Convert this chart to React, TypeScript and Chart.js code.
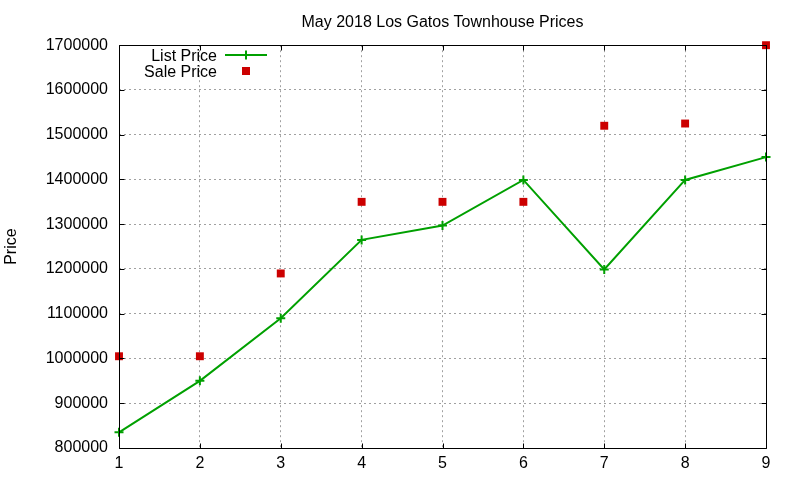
import React, { useEffect, useRef } from "react";
import { Chart, registerables } from "chart.js";

Chart.register(...registerables);

const categories = ["1", "2", "3", "4", "5", "6", "7", "8", "9"];
const listPrice = [835000, 950000, 1090000, 1265000, 1297000, 1399000, 1199000, 1399000, 1450000];
const salePrice = [1005000, 1005000, 1190000, 1350000, 1350000, 1350000, 1520000, 1525000, 1700000];
const yMin = 800000;
const yMax = 1700000;
const yStep = 100000;
const titleText = "May 2018 Los Gatos Townhouse Prices";
const yTitle = "Price";
const legendLabels = ["List Price", "Sale Price"];

const GREEN = "#00a000";
const RED = "#cc0000";
const FONT = "'Liberation Sans', Arial, Helvetica, sans-serif";

const titleCenterPlugin = {
  id: "titleCenter",
  afterLayout(chart: any) {
    const tb = chart.titleBlock;
    if (tb) {
      tb.left = chart.chartArea.left;
      tb.right = chart.chartArea.right;
      tb.width = tb.right - tb.left;
    }
  },
};

const framePlugin = {
  id: "gnuFrame",
  afterDraw(chart: any) {
    const ctx = chart.ctx;
    const { left, right, top, bottom } = chart.chartArea;
    const L = Math.round(left) + 0.5;
    const R = Math.round(right) + 0.5;
    const T = Math.round(top) + 0.5;
    const B = Math.round(bottom) + 0.5;
    ctx.save();
    ctx.strokeStyle = "#000";
    ctx.lineWidth = 1;
    ctx.setLineDash([]);
    ctx.beginPath();
    ctx.rect(L, T, R - L, B - T);
    const tl = 5;
    const ys = chart.scales.y;
    ys.ticks.forEach((t: any) => {
      const py = Math.round(ys.getPixelForValue(t.value)) + 0.5;
      ctx.moveTo(L, py);
      ctx.lineTo(L + tl, py);
      ctx.moveTo(R, py);
      ctx.lineTo(R - tl, py);
    });
    const xs = chart.scales.x;
    xs.ticks.forEach((_t: any, i: number) => {
      const px = Math.round(xs.getPixelForTick(i)) + 0.5;
      ctx.moveTo(px, B);
      ctx.lineTo(px, B - tl);
      ctx.moveTo(px, T);
      ctx.lineTo(px, T + tl);
    });
    ctx.stroke();

    // gnuplot-style key
    const textX = 217;
    const row1 = 55;
    const row2 = 71;
    const symX = 246;
    ctx.font = `16px ${FONT}`;
    ctx.fillStyle = "#000";
    ctx.textAlign = "right";
    ctx.textBaseline = "alphabetic";
    ctx.fillText(legendLabels[0], textX, row1 + 5.5);
    ctx.fillText(legendLabels[1], textX, row2 + 5.5);
    ctx.strokeStyle = GREEN;
    ctx.lineWidth = 2;
    ctx.beginPath();
    ctx.moveTo(225, row1);
    ctx.lineTo(267, row1);
    ctx.moveTo(symX, row1 - 4.5);
    ctx.lineTo(symX, row1 + 4.5);
    ctx.stroke();
    ctx.fillStyle = RED;
    ctx.fillRect(symX - 4, row2 - 4, 8, 8);
    ctx.restore();
  },
};

export default function App() {
  const ref = useRef<HTMLCanvasElement | null>(null);
  useEffect(() => {
    if (!ref.current) return;
    const chart = new Chart(ref.current, {
      type: "line",
      data: {
        labels: categories,
        datasets: [
          {
            label: legendLabels[0],
            data: listPrice,
            borderColor: GREEN,
            backgroundColor: GREEN,
            borderWidth: 2,
            pointStyle: "cross",
            pointRadius: 4.5,
            pointBorderWidth: 2,
            pointBorderColor: GREEN,
            tension: 0,
            fill: false,
            clip: false,
          } as any,
          {
            label: legendLabels[1],
            data: salePrice,
            showLine: false,
            borderColor: RED,
            backgroundColor: RED,
            pointStyle: "rect",
            pointRadius: 5.6,
            pointBorderWidth: 0,
            clip: false,
          } as any,
        ],
      },
      options: {
        animation: false,
        responsive: false,
        devicePixelRatio: 1,
        layout: { padding: { top: 0, right: 34, bottom: 0, left: 0 } },
        plugins: {
          legend: { display: false },
          tooltip: { enabled: false },
          title: {
            display: true,
            text: titleText,
            color: "#000",
            font: { family: FONT, size: 16, weight: "normal" },
            padding: { top: 13, bottom: 13 },
          },
        },
        scales: {
          x: {
            type: "category",
            offset: false,
            grid: { color: "#a0a0a0", lineWidth: 1, drawTicks: false },
            border: { display: false, dash: [2, 3] },
            ticks: {
              color: "#000",
              font: { family: FONT, size: 16 },
              padding: 6,
              maxRotation: 0,
              autoSkip: false,
            },
            afterFit: (s: any) => {
              s.height = 32;
            },
          },
          y: {
            min: yMin,
            max: yMax,
            grid: { color: "#a0a0a0", lineWidth: 1, drawTicks: false },
            border: { display: false, dash: [2, 3] },
            ticks: {
              stepSize: yStep,
              color: "#000",
              font: { family: FONT, size: 16 },
              padding: 11,
              callback: (v: any) => String(v),
            },
            title: {
              display: true,
              text: yTitle,
              color: "#000",
              font: { family: FONT, size: 16 },
              padding: { top: 2, bottom: 0 },
            },
            afterFit: (s: any) => {
              s.width = 119;
            },
          },
        },
      } as any,
      plugins: [titleCenterPlugin, framePlugin],
    });
    return () => chart.destroy();
  }, []);
  return (
    <div style={{ position: "fixed", left: 0, top: 0, width: 800, height: 480, background: "#fff" }}>
      <canvas ref={ref} width={800} height={480} style={{ display: "block" }} />
    </div>
  );
}
